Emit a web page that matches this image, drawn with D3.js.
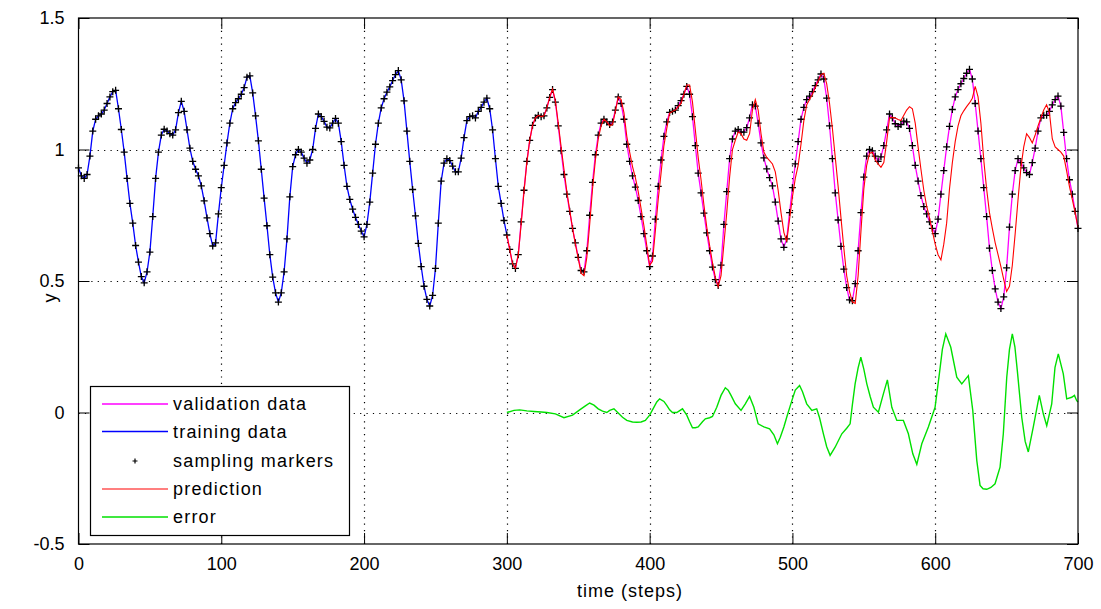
<!DOCTYPE html>
<html><head><meta charset="utf-8">
<script src="https://cdn.jsdelivr.net/npm/d3@7"></script>
<style>body{margin:0;background:#fff} svg text{font-family:"Liberation Sans",Arial,Helvetica,sans-serif;fill:#000}</style>
</head><body><svg id="c" width="1101" height="609"></svg>
<script>
// ---- data ----
const actualStart = 0, actualStep = 2;
const actualValues = [
0.93,0.90,0.89,0.905,0.975,1.07,1.115,1.128,1.135,1.15,
1.175,1.20,1.22,1.225,1.155,1.076,0.99,0.89,0.795,0.72,
0.635,0.572,0.517,0.493,0.535,0.61,0.745,0.89,0.99,1.055,
1.077,1.07,1.06,1.055,1.075,1.14,1.183,1.145,1.075,1.005,
0.955,0.925,0.90,0.862,0.805,0.74,0.68,0.633,0.645,0.755,
0.855,0.94,1.025,1.10,1.155,1.178,1.193,1.21,1.235,1.275,
1.28,1.215,1.128,1.033,0.925,0.815,0.71,0.60,0.515,0.455,
0.42,0.455,0.535,0.66,0.82,0.935,0.98,1.0,0.99,0.967,
0.948,0.96,1.0,1.08,1.135,1.125,1.107,1.085,1.082,1.10,
1.118,1.10,1.03,0.94,0.86,0.81,0.773,0.742,0.715,0.69,
0.668,0.715,0.80,0.91,1.02,1.10,1.158,1.193,1.218,1.238,
1.262,1.285,1.30,1.265,1.185,1.07,0.955,0.848,0.748,0.643,
0.555,0.48,0.43,0.405,0.445,0.548,0.72,0.88,0.948,0.965,
0.958,0.937,0.915,0.915,0.967,1.045,1.11,1.125,1.128,1.12,
1.145,1.16,1.18,1.195,1.155,1.075,0.965,0.86,0.795,0.73,
0.675,0.62,0.565,0.548,0.60,0.725,0.845,0.955,1.035,1.092,
1.12,1.13,1.125,1.128,1.158,1.198,1.228,1.18,1.09,0.995,
0.905,0.83,0.765,0.70,0.645,0.59,0.54,0.535,0.615,0.75,
0.875,0.98,1.055,1.10,1.115,1.105,1.095,1.105,1.15,1.20,
1.175,1.115,1.02,0.955,0.90,0.857,0.806,0.745,0.68,0.615,
0.555,0.595,0.735,0.86,0.96,1.05,1.105,1.141,1.145,1.15,
1.167,1.186,1.21,1.24,1.21,1.125,1.015,0.91,0.835,0.758,
0.683,0.615,0.553,0.505,0.483,0.56,0.715,0.84,0.965,1.04,
1.07,1.076,1.066,1.066,1.083,1.12,1.17,1.165,1.10,1.025,
0.968,0.926,0.893,0.862,0.80,0.728,0.66,0.628,0.66,0.76,
0.855,0.945,1.03,1.115,1.16,1.19,1.203,1.22,1.243,1.265,
1.287,1.268,1.195,1.09,0.965,0.835,0.732,0.632,0.545,0.475,
0.428,0.425,0.49,0.615,0.76,0.895,0.975,1.0,0.995,0.975,
0.955,0.972,1.015,1.075,1.135,1.12,1.098,1.087,1.095,1.108,
1.105,1.08,1.015,0.94,0.88,0.825,0.783,0.755,0.725,0.70,
0.68,0.735,0.83,0.92,1.01,1.088,1.152,1.20,1.228,1.25,
1.27,1.29,1.305,1.268,1.175,1.07,0.965,0.855,0.745,0.625,
0.54,0.47,0.42,0.395,0.44,0.55,0.705,0.83,0.92,0.965,
0.95,0.93,0.912,0.905,0.95,1.005,1.07,1.12,1.13,1.13,
1.145,1.17,1.19,1.203,1.165,1.065,0.965,0.885,0.83,0.765,
0.70];
const trainingEnd = 300;   // steps 0..300 training, 300..700 validation

const predStart = 300, predStep = 2;
const predValues = [
0.675,0.62,0.565,0.548,0.60,0.715,0.84,0.95,1.035,1.092,
1.12,1.13,1.125,1.128,1.158,1.198,1.23,1.185,1.10,1.01,
0.925,0.84,0.77,0.70,0.64,0.585,0.53,0.52,0.59,0.715,
0.85,0.96,1.04,1.09,1.115,1.105,1.09,1.095,1.145,1.20,
1.19,1.14,1.05,0.99,0.935,0.893,0.84,0.775,0.71,0.635,
0.56,0.575,0.69,0.81,0.91,1.015,1.08,1.138,1.145,1.15,
1.163,1.175,1.21,1.245,1.245,1.18,1.075,0.97,0.885,0.79,
0.705,0.635,0.57,0.515,0.478,0.52,0.64,0.76,0.895,1.0,
1.035,1.066,1.06,1.04,1.035,1.06,1.15,1.19,1.15,1.06,
0.99,0.97,0.958,0.945,0.915,0.845,0.76,0.685,0.65,0.735,
0.82,0.89,0.94,1.02,1.11,1.17,1.19,1.21,1.235,1.26,
1.285,1.29,1.25,1.175,1.08,0.97,0.86,0.74,0.625,0.52,
0.46,0.42,0.415,0.52,0.69,0.85,0.94,0.985,0.99,0.96,
0.945,0.932,0.95,1.03,1.12,1.122,1.12,1.114,1.11,1.13,
1.15,1.163,1.155,1.1,1.01,0.925,0.845,0.785,0.74,0.69,
0.64,0.6,0.58,0.64,0.72,0.85,0.95,1.03,1.09,1.128,
1.147,1.163,1.177,1.195,1.24,1.2,1.1,0.96,0.85,0.76,
0.7,0.645,0.6,0.555,0.505,0.46,0.48,0.56,0.68,0.81,
0.93,1.01,1.06,1.045,1.025,1.055,1.09,1.12,1.15,1.17,
1.14,1.04,1.01,1.0,0.99,0.975,0.92,0.86,0.81,0.76,
0.705];

const errSteps = [300,305,309,314,319,324,328,334,340,346,351,355,358,361,364,367,370,372,375,378,
381,384,388,391,394,397,400,402,405,407,410,412,414,416,419,423,426,428,430,432,
434,437,439,442,444,447,450,453,455,457,460,464,467,470,473,476,480,484,487,489.5,
491.5,494,496,499.6,502,505,507,510,513.6,517,519,521.7,524,526.4,529.9,534.6,538,540.4,542,543.9,
546,547.9,550,552.1,554.5,556.7,560.2,563.7,566.5,569.6,573.1,577.7,581.2,584.3,587.1,590.6,595.2,599.9,602.9,605,
607.4,610.9,615.1,618.6,621,623.2,626.3,629.1,631.4,633.5,636.1,639,641.9,645.4,647.7,650.1,652,654,655.8,657.5,
660.6,663,665.2,668.7,672.9,675.7,678.1,681.6,683.9,686.2,689.7,692.1,695.6,697.5,699.1,700];
const errValues = [0,0.008,0.01,0.006,0.004,0.002,0,-0.005,-0.02,-0.01,0.01,0.025,0.036,0.028,0.014,0.005,0,0.008,0.014,-0.002,
-0.018,-0.03,-0.036,-0.037,-0.036,-0.03,-0.01,0.01,0.04,0.052,0.042,0.027,0.01,0,0,0.014,-0.01,-0.035,-0.058,-0.058,
-0.055,-0.035,-0.024,-0.02,-0.015,0.02,0.065,0.094,0.085,0.065,0.033,0.008,0.033,0.061,0.02,-0.043,-0.055,-0.062,-0.085,-0.119,
-0.094,-0.055,-0.018,0.045,0.085,0.103,0.08,0.033,0.008,0.014,-0.02,-0.081,-0.13,-0.163,-0.132,-0.081,-0.06,-0.043,0.03,0.109,
0.17,0.21,0.165,0.109,0.06,0.02,0.001,0.071,0.124,0.02,-0.03,-0.03,-0.081,-0.157,-0.197,-0.119,-0.055,0.02,0.147,0.24,
0.299,0.248,0.134,0.109,0.125,0.14,0.008,-0.182,-0.277,-0.29,-0.292,-0.285,-0.271,-0.208,-0.081,0.134,0.24,0.299,0.25,0.159,
-0.018,-0.11,-0.15,-0.055,0.065,-0.005,-0.05,0.033,0.172,0.223,0.147,0.052,0.058,0.065,0.045,0.04];

const xTicks = [0,100,200,300,400,500,600,700];
const yTicks = [-0.5,0,0.5,1,1.5];
const xLabel = "time (steps)";
const yLabel = "y";
const legendLabels = ["validation data","training data","sampling markers","prediction","error"];

// ---- drawing ----
const C = {validation:"#ff00ff", training:"#0000ff", marker:"#000000", prediction:"#ff0000", error:"#00e000"};
const svg = d3.select("#c");
const L = 78.5, R = 1078, T = 18, B = 544;
const x = d3.scaleLinear().domain([0,700]).range([L,R]);
const y = d3.scaleLinear().domain([-0.5,1.5]).range([B,T]);

const actual = actualValues.map((v,i)=>({s:actualStart+i*actualStep, v}));
const training = actual.filter(d=>d.s<=trainingEnd);
const validation = actual.filter(d=>d.s>=trainingEnd);
const pred = predValues.map((v,i)=>({s:predStart+i*predStep, v}));
const err = errSteps.map((s,i)=>({s, v:errValues[i]}));

svg.append("rect").attr("x",0).attr("y",0).attr("width",1101).attr("height",609).attr("fill","#fff");

// grid
const grid = svg.append("g").attr("stroke","#000").attr("stroke-width",1.2).attr("stroke-dasharray","1.2,5.2");
grid.selectAll(".gx").data(xTicks.filter(t=>t>0&&t<700)).join("line")
  .attr("x1",d=>Math.round(x(d))+0.5).attr("x2",d=>Math.round(x(d))+0.5).attr("y1",T).attr("y2",B);
grid.selectAll(".gy").data(yTicks.filter(t=>t>-0.5&&t<1.5)).join("line")
  .attr("y1",d=>Math.round(y(d))+0.5).attr("y2",d=>Math.round(y(d))+0.5).attr("x1",L).attr("x2",R);

const line = d3.line().x(d=>x(d.s)).y(d=>y(d.v));
const plot = svg.append("g");
plot.append("path").datum(validation).attr("d",line).attr("fill","none").attr("stroke",C.validation).attr("stroke-width",1.3);
plot.append("path").datum(training).attr("d",line).attr("fill","none").attr("stroke",C.training).attr("stroke-width",1.3);
const ms = 3.5;
plot.append("g").selectAll("path").data(actual).join("path")
  .attr("d",d=>`M${x(d.s)-ms},${y(d.v)}h${2*ms}M${x(d.s)},${y(d.v)-ms}v${2*ms}`)
  .attr("stroke",C.marker).attr("stroke-width",1.3).attr("fill","none");
plot.append("path").datum(pred).attr("d",line).attr("fill","none").attr("stroke",C.prediction).attr("stroke-width",1.1);
plot.append("path").datum(err).attr("d",line).attr("fill","none").attr("stroke",C.error).attr("stroke-width",1.4);

// axes (MATLAB style: box, inward ticks on all sides)
const tl = 11;
svg.append("g").attr("transform",`translate(0,${B})`)
  .call(d3.axisBottom(x).tickValues(xTicks).tickSizeInner(-tl).tickSizeOuter(0).tickPadding(13).tickFormat(d=>String(d)))
  .call(g=>{g.select(".domain").remove(); g.selectAll("text").attr("font-size",18).attr("fill","#000");});
svg.append("g").attr("transform",`translate(0,${T})`)
  .call(d3.axisTop(x).tickValues(xTicks).tickSizeInner(-tl).tickSizeOuter(0).tickFormat(""))
  .call(g=>g.select(".domain").remove());
svg.append("g").attr("transform",`translate(${L},0)`)
  .call(d3.axisLeft(y).tickValues(yTicks).tickSizeInner(-tl).tickSizeOuter(0).tickPadding(14).tickFormat(d=>String(d)))
  .call(g=>{g.select(".domain").remove(); g.selectAll("text").attr("font-size",18).attr("fill","#000");});
svg.append("g").attr("transform",`translate(${R},0)`)
  .call(d3.axisRight(y).tickValues(yTicks).tickSizeInner(-tl).tickSizeOuter(0).tickFormat(""))
  .call(g=>g.select(".domain").remove());
svg.selectAll(".tick line").attr("stroke","#000");
svg.append("rect").attr("x",L).attr("y",T).attr("width",R-L).attr("height",B-T)
  .attr("fill","none").attr("stroke","#000").attr("stroke-width",1.2);

svg.append("text").attr("x",630).attr("y",597).attr("text-anchor","middle").attr("font-size",18)
  .attr("letter-spacing",1).text(xLabel);
svg.append("text").attr("transform","translate(56,298) rotate(-90)").attr("text-anchor","middle").attr("font-size",18).text(yLabel);

// legend
const lg = svg.append("g");
lg.append("rect").attr("x",90.5).attr("y",386.5).attr("width",259).attr("height",149)
  .attr("fill","#fff").attr("stroke","#000").attr("stroke-width",1.2);
const rowsY = [404,431.5,461,489,517];
const legColors = [C.validation,C.training,null,C.prediction,C.error];
legendLabels.forEach((t,i)=>{
  const yy = rowsY[i];
  if (legColors[i]) {
    lg.append("line").attr("x1",102).attr("x2",168).attr("y1",yy).attr("y2",yy)
      .attr("stroke",legColors[i]).attr("stroke-width",i===3?1.1:1.4);
  } else {
    lg.append("path").attr("d",`M${135-2.5},${yy}h5M135,${yy-2.5}v5`).attr("stroke","#000").attr("stroke-width",1.2);
  }
  lg.append("text").attr("x",173).attr("y",yy+6).attr("font-size",18).attr("letter-spacing",1.2).text(t);
});
</script></body></html>
